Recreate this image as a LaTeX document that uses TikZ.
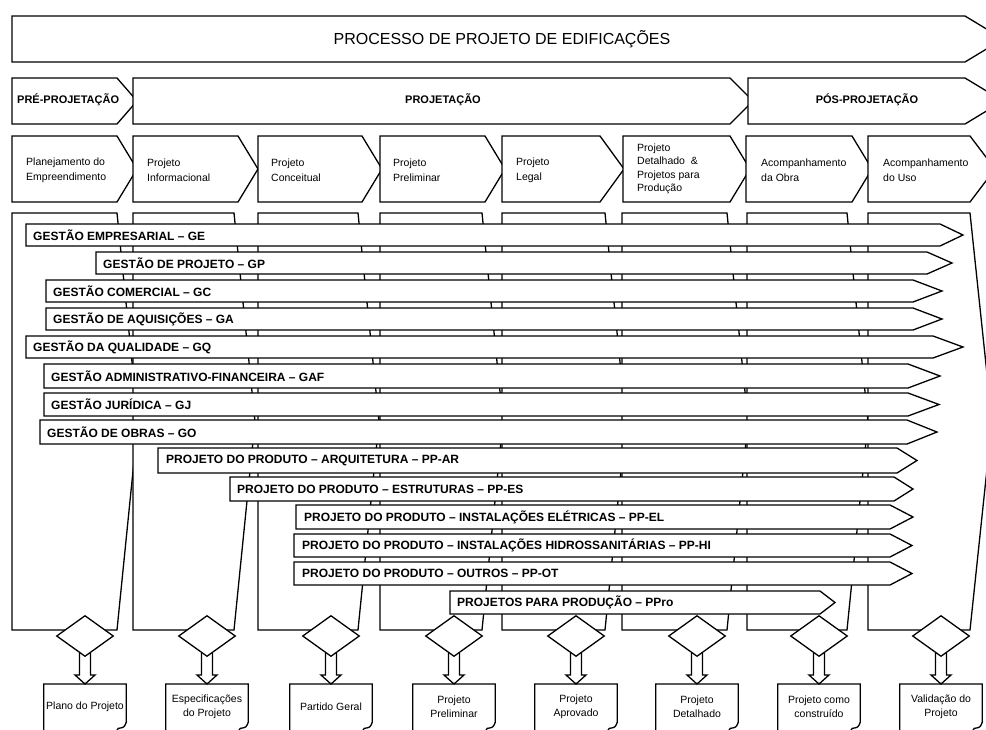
\documentclass[tikz,border=0pt]{standalone}
\usepackage{fontspec}
\setmainfont{Liberation Sans}
\usetikzlibrary{calc,shapes.geometric}

% pointed box: left, top, bottom, corner x, tip x
\newcommand\chevron[6][]{%
  \path[outline,#1] (#2,#3) -- (#5,#3) -- (#6,{(#3+#4)/2}) -- (#5,#4) -- (#2,#4) -- cycle;}

\begin{document}
\begin{tikzpicture}[x=1pt,y=-1pt,
  outline/.style={draw=black, fill=white, line width=1.3pt, line join=miter},
  titletext/.style={font=\fontsize{16}{18}\selectfont, inner sep=0pt},
  stagetext/.style={font=\fontsize{11}{13}\selectfont\bfseries, inner sep=0pt},
  phasetext/.style={anchor=west, align=left, font=\fontsize{10.5}{15}\selectfont, inner sep=0pt},
  bartext/.style={anchor=west, font=\fontsize{12}{14}\selectfont\bfseries, inner sep=0pt},
  gate/.style={diamond, draw=black, fill=white, line width=1.3pt, minimum width=57pt,
    minimum height=41pt, inner sep=0pt},
  result/.style={anchor=north, minimum width=82pt, minimum height=45pt, inner sep=0pt,
    align=center, font=\fontsize{10.5}{14}\selectfont},
  docline/.style={draw=black, line width=1.3pt, line join=miter},
  hollow/.style={draw=black, line width=1.3pt, line join=miter},
]
\fill[white] (0,0) rectangle (986,729);
\useasboundingbox (0,0) rectangle (986,729);

% overall process banner
\chevron{12}{16}{62}{965}{1003}
\node[titletext] (process) at (502,39) {PROCESSO DE PROJETO DE EDIFICAÇÕES};

% stages
\chevron{12}{78}{124}{117}{137}
\chevron{133}{78}{124}{730}{753}
\chevron{748}{78}{124}{965}{1003}
\node[stagetext, anchor=west] (pre) at (17,100) {PRÉ-PROJETAÇÃO};
\node[stagetext] (proj) at (443,100) {PROJETAÇÃO};
\node[stagetext] (pos) at (867,100) {PÓS-PROJETAÇÃO};

% phases
\chevron{12}{136}{202}{117}{137}
\chevron{133}{136}{202}{238}{258}
\chevron{258}{136}{202}{362}{382}
\chevron{380}{136}{202}{485}{505}
\chevron{502}{136}{202}{600}{624}
\chevron{623}{136}{202}{730}{750}
\chevron{746}{136}{202}{852}{872}
\chevron{868}{136}{202}{970}{995}
\node[phasetext] (ph1) at (26,170) {Planejamento do\\Empreendimento};
\node[phasetext] (ph2) at (147,170) {Projeto\\Informacional};
\node[phasetext] (ph3) at (271,170) {Projeto\\Conceitual};
\node[phasetext] (ph4) at (393,170) {Projeto\\Preliminar};
\node[phasetext] (ph5) at (516,170) {Projeto\\Legal};
\node[phasetext, font=\fontsize{10.5}{13.5}\selectfont] (ph6) at (637,169)
  {Projeto\\Detalhado~~\&\\Projetos para\\Produção};
\node[phasetext] (ph7) at (761,170) {Acompanhamento\\da Obra};
\node[phasetext] (ph8) at (883,170) {Acompanhamento\\do Uso};

% phase columns
\chevron{12}{213}{630}{117}{138}
\chevron{133}{213}{630}{234}{255}
\chevron{258}{213}{630}{358}{379}
\chevron{380}{213}{630}{482}{503}
\chevron{502}{213}{630}{605}{626}
\chevron{622}{213}{630}{727}{748}
\chevron{747}{213}{630}{847}{868}
\chevron{868}{213}{630}{970}{992}

% management and design streams
\chevron{26}{224}{246}{940}{963}
\chevron{96}{252}{274}{927}{952}
\chevron{46}{280}{302}{913}{942}
\chevron{46}{308}{330}{913}{942}
\chevron{26}{336}{358}{933}{963}
\chevron{44}{364}{388}{908}{940}
\chevron{44}{393}{416}{908}{939}
\chevron{40}{420}{444}{907}{937}
\chevron{158}{448}{473}{897}{917}
\chevron{230}{477}{501}{894}{913}
\chevron{296}{505}{529}{890}{913}
\chevron{294}{534}{557}{890}{912}
\chevron{294}{562}{585}{890}{912}
\chevron{450}{591}{614}{820}{835}
\node[bartext] (ge) at (33,235) {GESTÃO EMPRESARIAL – GE};
\node[bartext] (gp) at (103,263) {GESTÃO DE PROJETO – GP};
\node[bartext] (gc) at (53,291) {GESTÃO COMERCIAL – GC};
\node[bartext] (ga) at (53,319) {GESTÃO DE AQUISIÇÕES – GA};
\node[bartext] (gq) at (33,347) {GESTÃO DA QUALIDADE – GQ};
\node[bartext] (gaf) at (51,376) {GESTÃO ADMINISTRATIVO-FINANCEIRA – GAF};
\node[bartext] (gj) at (51,404.5) {GESTÃO JURÍDICA – GJ};
\node[bartext] (go) at (47,432) {GESTÃO DE OBRAS – GO};
\node[bartext] (ppar) at (166,460.5) {PROJETO DO PRODUTO – ARQUITETURA – PP-AR};
\node[bartext] (ppes) at (237,489) {PROJETO DO PRODUTO – ESTRUTURAS – PP-ES};
\node[bartext] (ppel) at (304,517) {PROJETO DO PRODUTO – INSTALAÇÕES ELÉTRICAS – PP-EL};
\node[bartext] (pphi) at (302,545.5) {PROJETO DO PRODUTO – INSTALAÇÕES HIDROSSANITÁRIAS – PP-HI};
\node[bartext] (ppot) at (302,573.5) {PROJETO DO PRODUTO – OUTROS – PP-OT};
\node[bartext] (ppro) at (457,602.5) {PROJETOS PARA PRODUÇÃO – PPro};

% decision gates and their results
\foreach \i/\cx/\txt in {1/85/{Plano do Projeto},
                        2/207/{Especificações\\do Projeto},
                        3/331/{Partido Geral},
                        4/454/{Projeto\\Preliminar},
                        5/576/{Projeto\\Aprovado},
                        6/697/{Projeto\\Detalhado},
                        7/819/{Projeto como\\construído},
                        8/941/{Validação do\\Projeto}} {
  \node[gate] (d\i) at (\cx,636) {};
  \node[result] (b\i) at (\cx,684) {\txt};
  \path[docline] ([yshift=-12pt]b\i.south west) -- (b\i.north west) -- (b\i.north east)
    -- ([yshift=7pt]b\i.south east)
    .. controls ([xshift=-2pt,yshift=2pt]b\i.south east) .. ([xshift=-8pt,yshift=1pt]b\i.south east)
    -- ([xshift=-14pt,yshift=-8pt]b\i.south east);
  \path[hollow] ($(d\i.south)+(-5.5,-4)$) -- ($(b\i.north)+(-5.5,-9)$) -- ($(b\i.north)+(-10,-9)$)
    -- (b\i.north) -- ($(b\i.north)+(10,-9)$) -- ($(b\i.north)+(5.5,-9)$) -- ($(d\i.south)+(5.5,-4)$);
}
\end{tikzpicture}
\end{document}
